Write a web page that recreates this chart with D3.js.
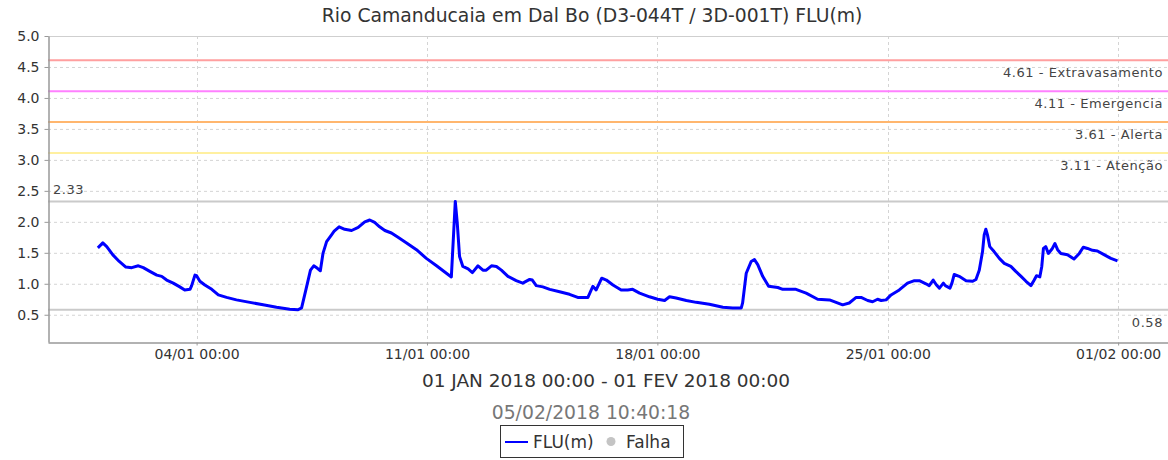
<!DOCTYPE html>
<html>
<head>
<meta charset="utf-8">
<script src="https://cdn.jsdelivr.net/npm/d3@7"></script>
<style>
  body { margin: 0; background: #fff; }
  svg { display: block; font-family: "DejaVu Sans", sans-serif; }
</style>
</head>
<body>
<svg id="chart" width="1168" height="460"></svg>
<script>
// ---- chart text ----
const chartTitle = "Rio Camanducaia em Dal Bo (D3-044T / 3D-001T) FLU(m)";
const periodLabel = "01 JAN 2018 00:00 - 01 FEV 2018 00:00";
const generatedAt = "05/02/2018 10:40:18";
const legendLabels = ["FLU(m)", "Falha"];

// ---- river level readings: days elapsed since 01/01/2018 00:00, level in metres ----
const readingDays = [
  0.00, 0.15, 0.27, 0.45, 0.65, 0.85, 1.03, 1.23, 1.38, 1.58, 1.79, 1.94,
  2.09, 2.29, 2.49, 2.64, 2.80, 2.85, 2.95, 3.00, 3.10, 3.25, 3.46, 3.66,
  3.91, 4.21, 4.62, 5.02, 5.43, 5.83, 6.08, 6.19, 6.32, 6.46, 6.56, 6.67,
  6.76, 6.84, 6.95, 7.10, 7.18, 7.33, 7.50, 7.71, 7.91, 8.11, 8.26, 8.41,
  8.56, 8.72, 8.92, 9.12, 9.38, 9.68, 9.98, 10.29, 10.54, 10.74, 10.81, 10.86,
  10.92, 10.99, 11.09, 11.25, 11.38, 11.55, 11.70, 11.80, 11.96, 12.11, 12.26, 12.46,
  12.71, 12.91, 13.12, 13.20, 13.32, 13.52, 13.73, 14.03, 14.33, 14.58, 14.89, 15.04,
  15.14, 15.31, 15.45, 15.65, 15.90, 16.10, 16.25, 16.46, 16.76, 17.01, 17.22, 17.37,
  17.57, 17.88, 18.18, 18.58, 18.99, 19.29, 19.55, 19.59, 19.70, 19.85, 19.95, 20.05,
  20.20, 20.38, 20.66, 20.81, 21.21, 21.52, 21.87, 22.23, 22.63, 22.83, 23.04, 23.19,
  23.39, 23.54, 23.69, 23.80, 23.95, 24.10, 24.35, 24.60, 24.81, 24.96, 25.16, 25.26,
  25.38, 25.48, 25.57, 25.69, 25.75, 25.89, 25.95, 26.02, 26.17, 26.38, 26.58, 26.68,
  26.78, 26.88, 26.93, 26.98, 27.03, 27.10, 27.23, 27.39, 27.54, 27.74, 27.89, 28.05,
  28.20, 28.35, 28.45, 28.52, 28.62, 28.68, 28.73, 28.80, 28.88, 28.99, 29.08, 29.16,
  29.26, 29.46, 29.66, 29.82, 29.94, 30.07, 30.22, 30.37, 30.57, 30.78, 30.98
];
const levels = [
  1.58, 1.66, 1.60, 1.47, 1.36, 1.27, 1.26, 1.29, 1.26, 1.20, 1.14, 1.12,
  1.06, 1.01, 0.95, 0.90, 0.91, 0.97, 1.14, 1.13, 1.04, 0.98, 0.91, 0.82,
  0.78, 0.74, 0.70, 0.66, 0.62, 0.59, 0.58, 0.61, 0.90, 1.22, 1.29, 1.25,
  1.21, 1.49, 1.68, 1.79, 1.85, 1.92, 1.88, 1.86, 1.91, 2.00, 2.03, 1.99,
  1.92, 1.86, 1.82, 1.75, 1.66, 1.55, 1.41, 1.29, 1.19, 1.11, 1.82, 2.33,
  1.98, 1.44, 1.28, 1.24, 1.18, 1.29, 1.22, 1.22, 1.29, 1.28, 1.22, 1.12,
  1.05, 1.01, 1.07, 1.06, 0.97, 0.95, 0.91, 0.87, 0.83, 0.78, 0.78, 0.96,
  0.90, 1.09, 1.06, 0.98, 0.90, 0.90, 0.91, 0.85, 0.79, 0.75, 0.73, 0.79,
  0.77, 0.73, 0.70, 0.67, 0.62, 0.61, 0.61, 0.69, 1.17, 1.36, 1.39, 1.31,
  1.12, 0.96, 0.94, 0.91, 0.91, 0.85, 0.75, 0.74, 0.66, 0.69, 0.78, 0.78,
  0.73, 0.71, 0.75, 0.73, 0.74, 0.82, 0.90, 1.01, 1.05, 1.05, 1.00, 0.97,
  1.06, 0.98, 0.93, 1.01, 0.97, 0.93, 1.01, 1.15, 1.12, 1.05, 1.04, 1.07,
  1.22, 1.52, 1.79, 1.88, 1.79, 1.60, 1.52, 1.41, 1.33, 1.28, 1.20, 1.12,
  1.04, 0.97, 1.06, 1.13, 1.11, 1.28, 1.57, 1.60, 1.49, 1.56, 1.65, 1.55,
  1.49, 1.47, 1.40, 1.49, 1.59, 1.57, 1.54, 1.53, 1.47, 1.41, 1.37
];

// ---- alert thresholds (m) ----
const thresholdValues = [4.61, 4.11, 3.61, 3.11];
const thresholdNames = ["Extravasamento", "Emergencia", "Alerta", "Atenção"];

// ---- axis ticks ----
const yTickValues = [0.5, 1.0, 1.5, 2.0, 2.5, 3.0, 3.5, 4.0, 4.5, 5.0];
const xTickDates = ["2018-01-04", "2018-01-11", "2018-01-18", "2018-01-25", "2018-02-01"];

// ---- layout ----
const DAY = 86400000;
const periodStart = Date.UTC(2018, 0, 1);
const plot = { left: 48, right: 1168, top: 36, bottom: 342 };
const thresholdColors = ["#ff9f9f", "#ff80ff", "#ffb66e", "#fff0a0"];

const svg = d3.select("#chart");

const x = d3.scaleUtc()
  .domain([new Date(periodStart - 1.515 * DAY), new Date(periodStart + 32.515 * DAY)])
  .range([plot.left, plot.right]);
const y = d3.scaleLinear()
  .domain([0.06, 5.0])
  .range([plot.bottom, plot.top]);

const readings = readingDays.map((d, i) => ({ t: new Date(periodStart + d * DAY), v: levels[i] }));
const xTicks = xTickDates.map(s => new Date(s + "T00:00:00Z"));

// grid
const grid = svg.append("g");
grid.selectAll("line.h").data(yTickValues.filter(v => v < 5)).join("line")
  .attr("x1", plot.left).attr("x2", plot.right)
  .attr("y1", d => y(d) + 0.5).attr("y2", d => y(d) + 0.5)
  .attr("stroke", "#d4d4d4").attr("stroke-dasharray", "3,3");
grid.selectAll("line.v").data(xTicks).join("line")
  .attr("x1", d => Math.round(x(d)) + 0.5).attr("x2", d => Math.round(x(d)) + 0.5)
  .attr("y1", plot.top).attr("y2", plot.bottom)
  .attr("stroke", "#d4d4d4").attr("stroke-dasharray", "3,3");
// top border
svg.append("line")
  .attr("x1", plot.left).attr("x2", plot.right)
  .attr("y1", y(5.0) + 0.5).attr("y2", y(5.0) + 0.5)
  .attr("stroke", "#cfcfcf");

// thresholds
const th = svg.append("g");
thresholdValues.forEach((v, i) => {
  th.append("line")
    .attr("x1", plot.left).attr("x2", plot.right)
    .attr("y1", y(v)).attr("y2", y(v))
    .attr("stroke", thresholdColors[i]).attr("stroke-width", 2);
  th.append("text")
    .attr("x", 1163).attr("y", y(v) + 17)
    .attr("text-anchor", "end")
    .attr("font-size", 13).attr("letter-spacing", 0.55)
    .attr("fill", "#444")
    .text(v.toFixed(2) + " - " + thresholdNames[i]);
});

// max / min reference lines
const maxLevel = d3.max(levels);
const minLevel = d3.min(levels);
[maxLevel, minLevel].forEach(v => {
  svg.append("line")
    .attr("x1", plot.left).attr("x2", plot.right)
    .attr("y1", y(v)).attr("y2", y(v))
    .attr("stroke", "#cacaca").attr("stroke-width", 2);
});
svg.append("text")
  .attr("x", 53).attr("y", y(maxLevel) - 7)
  .attr("font-size", 13).attr("letter-spacing", 0.55).attr("fill", "#444")
  .text(maxLevel.toFixed(2));
svg.append("text")
  .attr("x", 1163).attr("y", y(minLevel) + 17)
  .attr("text-anchor", "end")
  .attr("font-size", 13).attr("letter-spacing", 0.55).attr("fill", "#444")
  .text(minLevel.toFixed(2));

// series
svg.append("path")
  .datum(readings)
  .attr("fill", "none")
  .attr("stroke", "#0000ff")
  .attr("stroke-width", 3)
  .attr("stroke-linejoin", "round")
  .attr("d", d3.line().x(d => x(d.t)).y(d => y(d.v)));

// axes
const yAxis = svg.append("g")
  .attr("transform", `translate(${plot.left + 0.5},0)`)
  .call(d3.axisLeft(y).tickValues(yTickValues).tickFormat(d3.format(".1f"))
    .tickSize(4).tickSizeOuter(0).tickPadding(5));
const xAxis = svg.append("g")
  .attr("transform", `translate(0,${plot.bottom + 0.5})`)
  .call(d3.axisBottom(x).tickValues(xTicks).tickFormat(d3.utcFormat("%d/%m %H:%M"))
    .tickSize(3).tickSizeOuter(0).tickPadding(4));
[yAxis, xAxis].forEach(g => {
  g.select(".domain").attr("stroke", "#999").attr("stroke-width", 1.5);
  g.selectAll(".tick line").attr("stroke", "#999");
  g.selectAll("text").attr("fill", "#333").attr("font-family", "DejaVu Sans").attr("font-size", 14);
});

// titles
svg.append("text").attr("x", 592).attr("y", 22).attr("text-anchor", "middle")
  .attr("font-size", 18.8).attr("fill", "#333").text(chartTitle);
svg.append("text").attr("x", 606).attr("y", 387).attr("text-anchor", "middle")
  .attr("font-size", 18.5).attr("fill", "#333").text(periodLabel);
svg.append("text").attr("x", 591).attr("y", 419).attr("text-anchor", "middle")
  .attr("font-size", 18.8).attr("fill", "#777").text(generatedAt);

// legend
const lg = svg.append("g");
lg.append("rect").attr("x", 500.5).attr("y", 425.5).attr("width", 183).attr("height", 32)
  .attr("fill", "#fff").attr("stroke", "#333");
lg.append("line").attr("x1", 505).attr("x2", 528).attr("y1", 442).attr("y2", 442)
  .attr("stroke", "#0000ff").attr("stroke-width", 2);
lg.append("text").attr("x", 533).attr("y", 448).attr("font-size", 17).attr("fill", "#333").text(legendLabels[0]);
lg.append("circle").attr("cx", 611).attr("cy", 441.5).attr("r", 4.5).attr("fill", "#c4c4c4");
lg.append("text").attr("x", 626).attr("y", 448).attr("font-size", 17).attr("fill", "#333").text(legendLabels[1]);
</script>
</body>
</html>
